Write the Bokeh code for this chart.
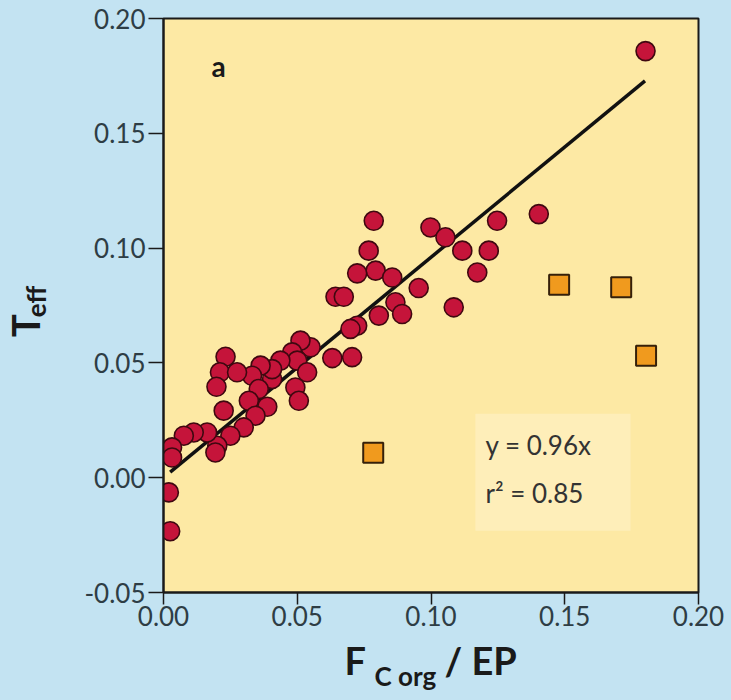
import math
from jinja2 import Template
from bokeh.plotting import figure
from bokeh.models import Label, Range1d, FixedTicker, PrintfTickFormatter
from bokeh.layouts import column, row
from bokeh.core.properties import value
from bokeh.embed import file_html
from bokeh.resources import INLINE

# ---- data ----
circle_x = [0.1802, 0.1403, 0.1247, 0.0786, 0.0998, 0.1054, 0.1117, 0.1216, 0.0767,
            0.1173, 0.0793, 0.0724, 0.0855, 0.0954, 0.0643, 0.0674, 0.0867, 0.1085,
            0.0805, 0.0892, 0.0724, 0.0699, 0.0631, 0.0705, 0.0550, 0.0512, 0.0481,
            0.0500, 0.0537, 0.0437, 0.0406, 0.0406, 0.0363, 0.0331, 0.0356, 0.0493,
            0.0506, 0.0232, 0.0211, 0.0275, 0.0198, 0.0319, 0.0388, 0.0225, 0.0344,
            0.0300, 0.0250, 0.0201, 0.0194, 0.0163, 0.0113, 0.0076, 0.0032, 0.0032,
            0.0020, 0.0025]
circle_y = [0.1858, 0.1148, 0.1119, 0.1119, 0.1090, 0.1047, 0.0989, 0.0989, 0.0989,
            0.0894, 0.0902, 0.0890, 0.0872, 0.0826, 0.0788, 0.0788, 0.0764, 0.0742,
            0.0706, 0.0713, 0.0662, 0.0648, 0.0521, 0.0525, 0.0568, 0.0597, 0.0546,
            0.0510, 0.0459, 0.0510, 0.0430, 0.0473, 0.0488, 0.0444, 0.0386, 0.0393,
            0.0335, 0.0527, 0.0459, 0.0459, 0.0396, 0.0335, 0.0309, 0.0292, 0.0270,
            0.0219, 0.0183, 0.0139, 0.0110, 0.0197, 0.0197, 0.0183, 0.0132, 0.0088,
            -0.0064, -0.0233]
square_x = [0.0784, 0.1479, 0.1711, 0.1804]
square_y = [0.0109, 0.0840, 0.0829, 0.0531]
fit_slope = 0.96
fit_x = [0.0025, 0.180]
fit_y = [fit_slope * v for v in fit_x]
x_ticks = [0.00, 0.05, 0.10, 0.15, 0.20]
y_ticks = [-0.05, 0.00, 0.05, 0.10, 0.15, 0.20]
eq_text = "y = 0.96x"
r2_text = "r\u00b2 = 0.85"
panel_text = "a"
x_title_main = "F"
x_title_sub = "C org"
x_title_rest = "/ EP"
y_title_main = "T"
y_title_sub = "eff"

FONT = "Lato"
BG = "#c3e3f2"
PLOT_BG = "#fde9a4"
INK = "#1a1a1a"

LEFT_W = 60
MAIN_W, MAIN_H = 671, 636
BOTTOM_H = 64

p = figure(width=MAIN_W, height=MAIN_H, output_backend="svg", toolbar_location=None,
           x_range=Range1d(0.0, 0.20), y_range=Range1d(-0.05, 0.20),
           min_border_left=103, min_border_right=33, min_border_top=18,
           min_border_bottom=44)
p.background_fill_color = PLOT_BG
p.border_fill_color = BG
p.outline_line_color = INK
p.outline_line_width = 2
p.grid.visible = False

for ax, ticks in ((p.xaxis[0], x_ticks), (p.yaxis[0], y_ticks)):
    ax.ticker = FixedTicker(ticks=ticks)
    ax.formatter = PrintfTickFormatter(format="%.2f")
    ax.minor_tick_line_color = None
    ax.major_tick_in = 0
    ax.major_tick_line_color = INK
    ax.major_tick_line_width = 1.5
    ax.axis_line_color = INK
    ax.axis_line_width = 2
    ax.major_label_text_font = FONT
    ax.major_label_text_font_size = "26px"
    ax.major_label_text_color = "#2e3d45"
p.xaxis.major_tick_out = 12
p.xaxis.major_label_standoff = 1
p.yaxis.major_tick_out = 15
p.yaxis.major_label_standoff = 3

# equation box (soft lighter area)
p.quad(left=[0.1166], right=[0.1746], bottom=[-0.0231], top=[0.0279],
       fill_color="#fdf0c2", fill_alpha=0.7, line_color=None)

p.line(fit_x, fit_y, line_color="#111111", line_width=3.5)
p.scatter(circle_x, circle_y, marker="circle", size=19, fill_color="#c5143a",
          line_color="#3f0810", line_width=1.6)
p.scatter(square_x, square_y, marker="square", size=20, fill_color="#f09a1e",
          line_color="#35200a", line_width=2)

p.add_layout(Label(x=0.0, y=0.20, x_offset=48, y_offset=-47, text=panel_text,
                   text_font=FONT, text_font_style="bold", text_font_size="28px",
                   text_color=INK, text_baseline="alphabetic"))
p.add_layout(Label(x=0.0, y=-0.05, x_offset=322, y_offset=148, text=eq_text,
                   text_font=FONT, text_font_size="26px", text_color="#333333",
                   text_baseline="alphabetic"))
p.add_layout(Label(x=0.0, y=-0.05, x_offset=322, y_offset=100, text=r2_text,
                   text_font=FONT, text_font_size="26px", text_color="#333333",
                   text_baseline="alphabetic"))


def text_panel(w, h):
    f = figure(width=w, height=h, output_backend="svg", toolbar_location=None,
               x_range=Range1d(0, w), y_range=Range1d(0, h), min_border=0,
               x_axis_type=None, y_axis_type=None)
    f.background_fill_color = BG
    f.border_fill_color = BG
    f.outline_line_color = None
    f.grid.visible = False
    return f


# left panel: T_eff (rotated)
yfig = text_panel(LEFT_W, MAIN_H)
yfig.text(x=[24], y=[283], text=[y_title_main], angle=math.pi / 2,
          text_font=value(FONT), text_font_style="bold", text_font_size="38px",
          text_color=INK, text_align="left", text_baseline="alphabetic")
yfig.text(x=[35], y=[305], text=[y_title_sub], angle=math.pi / 2,
          text_font=value(FONT), text_font_style="bold", text_font_size="26px",
          text_color=INK, text_align="left", text_baseline="alphabetic")

# bottom panel: F_{C org} / EP
xfig = text_panel(LEFT_W + MAIN_W, BOTTOM_H)
xfig.text(x=[344], y=[41], text=[x_title_main], text_font=value(FONT),
          text_font_style="bold", text_font_size="38px", text_color=INK,
          text_align="left", text_baseline="alphabetic")
xfig.text(x=[374], y=[25], text=[x_title_sub], text_font=value(FONT),
          text_font_style="bold", text_font_size="26px", text_color=INK,
          text_align="left", text_baseline="alphabetic")
xfig.text(x=[444], y=[41], text=[x_title_rest], text_font=value(FONT),
          text_font_style="bold", text_font_size="38px", text_color=INK,
          text_align="left", text_baseline="alphabetic")

layout = column(row(yfig, p, spacing=0), xfig, spacing=0)

page = Template("""{% extends base %}
{% block postamble %}<style>html, body { background-color: #c3e3f2; }</style>{% endblock %}""")

open("out.html", "w").write(file_html(layout, INLINE, template=page))
